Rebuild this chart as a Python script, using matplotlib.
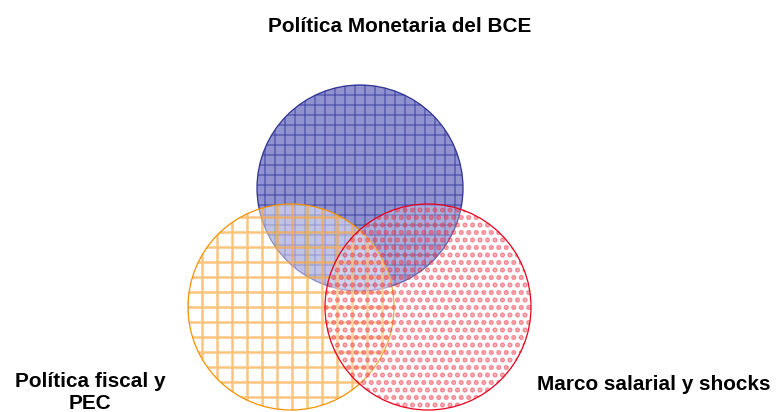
import matplotlib
matplotlib.use("Agg")
import matplotlib.pyplot as plt
from matplotlib.patches import Circle

plt.rcParams['font.family'] = ['Liberation Sans', 'DejaVu Sans']

# Etiquetas de los tres conjuntos
labels = ['Política Monetaria del BCE', 'Política fiscal y\nPEC', 'Marco salarial y shocks']

# Posición de los círculos (en píxeles de la figura)
centers = [(360, 188), (291, 307), (428, 307)]
radius = 103

# dpi alto para que la trama (hatch) tenga el espaciado del original
DPI = 180
fig = plt.figure(figsize=(776 / DPI, 412 / DPI), dpi=DPI)
ax = fig.add_axes([0, 0, 1, 1])
ax.set_xlim(0, 776)
ax.set_ylim(412, 0)
ax.set_aspect('equal')
ax.axis('off')


def hatch_circle(center, color, hatch, hlw, alpha, z):
    plt.rcParams['hatch.linewidth'] = hlw
    c = Circle(center, radius, facecolor='none', edgecolor=color, hatch=hatch, lw=0, alpha=alpha, zorder=z)
    if hasattr(c, 'set_hatch_linewidth'):
        c.set_hatch_linewidth(hlw)
    ax.add_patch(c)


# Círculo azul (BCE): relleno azul con rejilla fina
ax.add_patch(Circle(centers[0], radius, facecolor='#8a8dce', edgecolor='none', alpha=0.95, zorder=1))
hatch_circle(centers[0], '#3d41a0', '+++', 0.5, 0.8, 2)
ax.add_patch(Circle(centers[0], radius, facecolor='none', edgecolor='#2e3192', lw=0.5, zorder=3))

# Círculo naranja (fiscal): blanco semitransparente con rejilla naranja
ax.add_patch(Circle(centers[1], radius, facecolor='white', edgecolor='none', alpha=0.45, zorder=4))
hatch_circle(centers[1], '#f9a53a', '++', 1.0, 0.65, 5)
ax.add_patch(Circle(centers[1], radius, facecolor='none', edgecolor='#f39200', lw=0.5, zorder=6))

# Círculo rojo (salarios): blanco semitransparente con puntos rojos
ax.add_patch(Circle(centers[2], radius, facecolor='white', edgecolor='none', alpha=0.25, zorder=7))
hatch_circle(centers[2], '#f02a3c', '....', 1.4, 0.55, 8)
ax.add_patch(Circle(centers[2], radius, facecolor='none', edgecolor='#e8001c', lw=0.5, zorder=9))

ax.text(400, 17, labels[0], ha='center', va='top', fontsize=8.3, fontweight='bold')
ax.text(90, 372, labels[1], ha='center', va='top', fontsize=8.3, fontweight='bold')
ax.text(654, 374.5, labels[2], ha='center', va='top', fontsize=8.3, fontweight='bold')

fig.savefig('out.png', dpi=DPI)
